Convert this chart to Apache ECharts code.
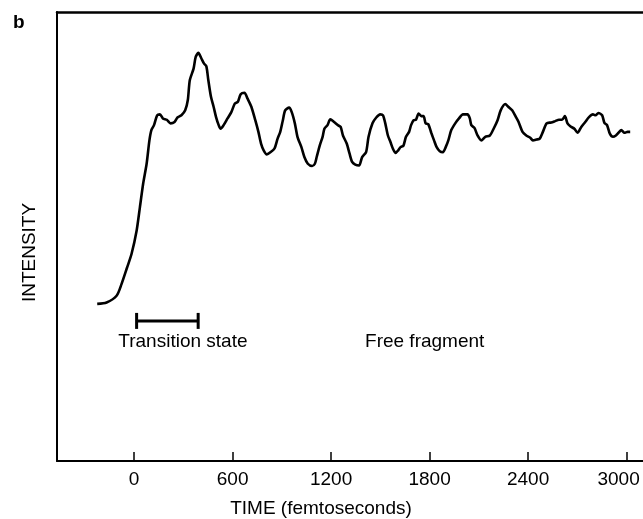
<!DOCTYPE html>
<html>
<head>
<meta charset="utf-8">
<style>
  html, body { margin: 0; padding: 0; background: #fff; }
  #chart { width: 643px; height: 519px; }
</style>
<script src="https://cdn.jsdelivr.net/npm/echarts@6/dist/echarts.min.js"></script>
</head>
<body>
<div id="chart"></div>
<script>
// Time (femtoseconds) of each traced point
const timeFs = [-225,-168,-107,-77,-43,-16,15,35,55,76,
  93,105,121,140,157,175,199,222,246,264,
  288,311,327,339,362,375,391,409,426,440,
  452,468,484,499,515,527,545,569,592,613,
  632,649,672,691,714,738,757,773,789,808,
  832,855,874,890,906,920,944,960,979,995,
  1019,1037,1058,1084,1101,1112,1131,1148,1159,1178,
  1195,1218,1241,1258,1272,1295,1312,1328,1347,1370,
  1389,1413,1428,1452,1475,1499,1516,1530,1546,1562,
  1576,1593,1609,1623,1640,1656,1675,1687,1703,1717,
  1733,1749,1763,1776,1792,1810,1827,1843,1862,1881,
  1898,1914,1932,1956,1979,2003,2031,2045,2054,2073,
  2092,2115,2139,2167,2190,2214,2233,2261,2279,2303,
  2326,2342,2366,2389,2413,2429,2452,2471,2490,2513,
  2541,2565,2588,2607,2624,2640,2659,2682,2701,2724,
  2748,2771,2795,2811,2828,2851,2865,2881,2898,2917,
  2935,2951,2968,2987,3006,3022];
// Intensity (arbitrary units, 0-100 frame)
const intensity = [35.0,35.3,36.8,39.4,43.1,46.1,51.3,56.5,61.8,66.2,
  71.4,73.7,74.8,77.0,77.2,76.3,76.0,75.2,75.5,76.5,
  77.0,78.1,80.4,84.8,87.4,90.0,90.9,89.7,88.5,87.9,
  84.8,81.1,78.9,76.6,74.8,74.0,74.8,76.3,77.7,79.6,
  80.0,81.7,82.0,80.7,78.9,75.9,73.3,70.7,69.2,68.3,
  68.8,69.6,71.8,73.3,75.9,78.1,78.7,77.7,75.2,72.2,
  69.9,67.7,66.2,65.7,66.2,67.7,70.3,72.2,74.0,74.8,
  76.1,75.5,74.8,74.4,72.5,70.7,68.5,66.6,66.0,65.8,
  67.7,68.8,72.2,75.2,76.5,77.2,77.0,75.2,72.5,71.0,
  69.6,68.6,69.2,69.9,70.2,72.2,73.3,74.8,75.9,76.0,
  77.4,76.8,76.8,75.2,75.0,73.1,71.4,69.9,69.0,68.8,
  69.9,71.4,73.7,75.2,76.3,77.2,77.2,76.3,74.8,74.2,
  72.5,71.4,72.2,72.5,74.0,75.9,78.1,79.5,78.9,78.1,
  76.6,75.5,73.3,72.5,72.0,71.4,71.6,71.8,73.3,75.2,
  75.4,75.7,76.0,76.0,76.8,75.2,74.5,74.0,73.1,74.4,
  75.5,76.6,77.2,77.0,77.5,77.0,75.3,74.8,72.9,72.2,
  72.5,73.1,73.7,73.1,73.3,73.3];
// Axis tick labels
const timeTicks = [0, 600, 1200, 1800, 2400, 3000];
// Transition-state interval: [start fs, end fs, intensity level]
const transitionBar = [15, 390, 31.2];
// Annotations: [time fs, intensity, text]
const annotations = [[297, 26.5, 'Transition state'], [1770, 26.5, 'Free fragment']];
const panelLabel = 'b';
const xTitle = 'TIME (femtoseconds)';
const yTitle = 'INTENSITY';

const FONT = '"Liberation Sans", Arial, Helvetica, sans-serif';
const curve = timeFs.map((t, i) => [t, intensity[i]]);
const lastTick = timeTicks[timeTicks.length - 1];

const chart = echarts.init(document.getElementById('chart'), null, { renderer: 'canvas' });
chart.setOption({
  animation: false,
  backgroundColor: '#fff',
  textStyle: { fontFamily: FONT },
  grid: { left: 57, right: 0, top: 12, bottom: 58, containLabel: false, outerBoundsMode: 'none' },
  graphic: [{
    type: 'text', left: 13, top: 13,
    style: { text: panelLabel, font: 'bold 19px ' + FONT, fill: '#000' }
  }],
  xAxis: [{
    type: 'value', min: -470, max: 3100,
    axisLine: { show: true, onZero: false, lineStyle: { color: '#000', width: 2 } },
    axisTick: { show: true, inside: true, length: 9, customValues: timeTicks, lineStyle: { color: '#000', width: 1.5 } },
    axisLabel: { show: true, customValues: timeTicks, color: '#000', fontSize: 19, margin: 9, fontFamily: FONT,
      formatter: function (v) { return v === lastTick ? '{edge|' + v + '}' : String(v); },
      rich: { edge: { color: '#000', fontSize: 19, fontFamily: FONT, padding: [0, 16, 0, 0] } } },
    splitLine: { show: false },
    name: xTitle, nameLocation: 'middle', nameGap: 38,
    nameTextStyle: { color: '#000', fontSize: 19, fontFamily: FONT, padding: [0, 58, 0, 0] }
  }, {
    type: 'value', position: 'top', min: -470, max: 3100,
    axisLine: { show: true, onZero: false, lineStyle: { color: '#000', width: 2.5 } },
    axisTick: { show: false }, axisLabel: { show: false }, splitLine: { show: false }
  }],
  yAxis: {
    type: 'value', min: 0, max: 100,
    axisLine: { show: true, onZero: false, lineStyle: { color: '#000', width: 2 } },
    axisTick: { show: false }, axisLabel: { show: false }, splitLine: { show: false },
    name: yTitle, nameLocation: 'middle', nameGap: 18,
    nameTextStyle: { color: '#000', fontSize: 19, fontFamily: FONT, padding: [0, 32, 0, 0] }
  },
  series: [{
    type: 'line', data: curve, showSymbol: false, smooth: 0.25,
    lineStyle: { color: '#000', width: 2.6 }, z: 3
  }, {
    type: 'custom',
    data: [transitionBar],
    renderItem: function (params, api) {
      const p1 = api.coord([api.value(0), api.value(2)]);
      const p2 = api.coord([api.value(1), api.value(2)]);
      const h = 8;
      const style = { stroke: '#000', lineWidth: 3 };
      return {
        type: 'group',
        children: [
          { type: 'line', shape: { x1: p1[0], y1: p1[1], x2: p2[0], y2: p2[1] }, style: style },
          { type: 'line', shape: { x1: p1[0], y1: p1[1] - h, x2: p1[0], y2: p1[1] + h }, style: style },
          { type: 'line', shape: { x1: p2[0], y1: p2[1] - h, x2: p2[0], y2: p2[1] + h }, style: style }
        ]
      };
    }
  }, {
    type: 'scatter', data: annotations, symbolSize: 0, silent: true,
    itemStyle: { opacity: 1 },
    label: {
      show: true, position: 'inside', color: '#000', opacity: 1, fontSize: 19, fontFamily: FONT,
      formatter: function (p) { return p.value[2]; }
    },
    emphasis: { disabled: true }
  }]
});
</script>
</body>
</html>
